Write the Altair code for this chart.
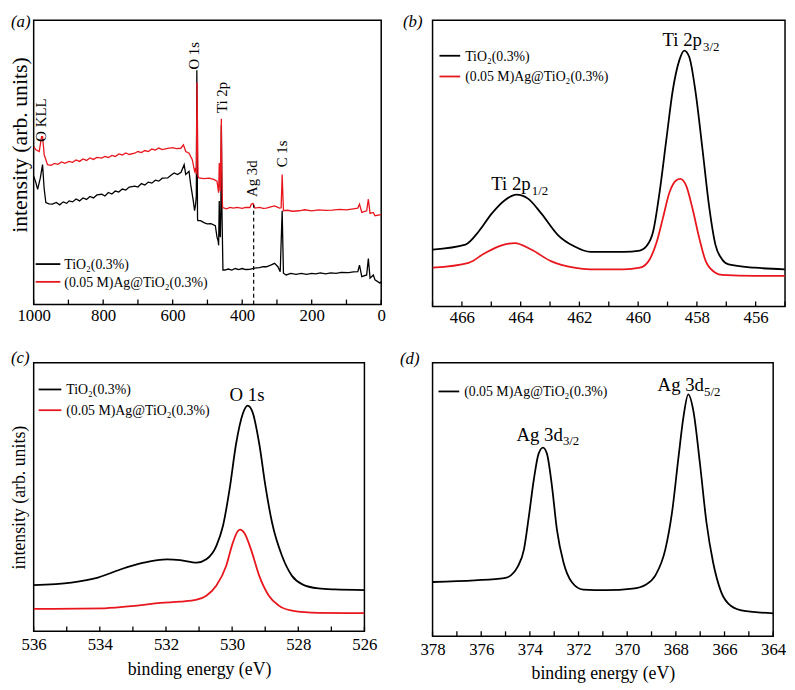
import altair as alt
import pandas as pd

FONT = "Liberation Serif"
RED = "#e8161d"
BLACK = "#000000"

LBL_TIO2 = "TiO\u2082(0.3%)"
LBL_AG = "(0.05 M)Ag@TiO\u2082(0.3%)"

# ---------------- (a) survey spectra ----------------
a_tio2_be = [1000, 994, 988.6, 981, 974.4, 970, 965, 956, 946, 935, 925, 915, 905, 898, 888, 878, 868, 858,
             848, 838, 828, 818, 804, 795, 785, 775, 765, 755, 745, 735, 725, 709, 700, 690, 680, 670, 660,
             650, 640, 630, 614.5, 605, 595.7, 586, 576, 567, 562.5, 553, 548.3, 540.7, 537, 534, 532, 530.5,
             528.5, 527.5, 520, 510, 501, 490, 477.3, 472.5, 469, 467.8, 466, 464.5, 463, 461.5, 460, 458,
             455.4, 450, 440, 430, 420, 410, 400, 390, 378, 365, 350, 340, 330.4, 318, 306.8, 297.3, 290.6,
             285, 281.3, 273.6, 260, 245, 230, 215, 200, 188.4, 175, 160, 145, 130, 115, 94, 80, 67.3, 62.5,
             55.9, 41.8, 37, 32.1, 22.7, 17.9, 3.7, 0]
a_tio2_int = [130, 124, 116.7, 128, 141.7, 118, 103.3, 102, 101.7, 103.5, 101, 104, 102.5, 105, 104, 107, 105,
              108, 106.5, 109.5, 108, 111, 111.7, 110, 113.5, 112, 115, 114, 117, 116, 119, 120, 119, 122.5,
              121, 124, 123, 126, 125, 128, 128.3, 131, 133.3, 131.7, 134, 141.7, 131.7, 135, 121.7, 105, 95,
              101.7, 110, 237.3, 87, 85, 85, 83, 81.7, 82, 80, 68.3, 64, 60, 105, 72, 68.3, 95, 181.7, 90, 35,
              35, 36, 35, 36.5, 35.5, 36.5, 35.5, 35.7, 37, 37.5, 38.5, 38.3, 40, 41.7, 38.3, 33.3, 95, 31.7,
              30, 31.5, 30.5, 31.5, 30.5, 31.5, 31, 32, 31, 32, 31.5, 32.5, 32.3, 33, 33.3, 40, 28.3, 30, 46.7,
              26.7, 30, 25, 21.7, 23.3]

a_ag_be = [1000, 993.4, 984, 977.3, 974.4, 969.7, 960.2, 950, 940, 930, 920, 910, 898.6, 888, 878, 868, 858,
           848, 838, 828, 818, 804, 795, 785, 775, 765, 755, 745, 735, 725, 709.4, 700, 690, 680, 670, 660,
           650, 640, 630, 614.5, 600, 590, 576.7, 569, 562.5, 553, 543.6, 537, 534, 532, 530, 527, 524.6,
           510, 495, 482, 472.5, 467.8, 466, 463, 460, 458, 456.5, 445, 435, 425, 415, 400, 390, 378, 373.6,
           368.4, 363.6, 350, 340, 330.4, 318, 306.8, 292.6, 288, 285, 281.3, 270, 255, 236.4, 220, 200,
           180, 160, 141.2, 120, 100, 80, 67.3, 62.5, 55.9, 41.8, 37, 32.1, 22.7, 17.9, 0]
a_ag_int = [160, 156.7, 155, 170, 170, 151.7, 141.7, 141, 143, 142, 144.5, 143, 145, 144, 146.5, 145, 147.5,
            146, 148.5, 147, 149, 148.3, 150, 149, 151, 150, 152.5, 151.5, 153.5, 152, 153.3, 155, 154, 156,
            155, 157.5, 156.5, 158.5, 157, 158.3, 159, 158, 158.3, 161.7, 155, 153.3, 146.7, 135, 138.3, 132,
            225, 130, 128.3, 127.5, 128, 126.7, 125, 113.3, 143.3, 115, 188.3, 120, 98.3, 97, 98.5, 97.7,
            98.5, 97.5, 98.5, 98.3, 101.7, 102.3, 97.7, 98.5, 97.5, 97.7, 99, 100, 97.7, 98, 131.7, 95, 95.5,
            94.5, 95, 96, 95, 96, 95.5, 95.7, 96.5, 96, 97, 97.7, 101.7, 93.3, 95, 106.7, 92.3, 93.3, 90, 91]

# ---------------- (b) Ti 2p ----------------
b_tio2_be = [467.0, 465.88, 465.43, 464.98, 464.54, 464.14, 463.75, 463.30, 462.74, 462.18, 461.62, 460.50,
             459.94, 459.72, 459.49, 459.27, 459.04, 458.82, 458.60, 458.43, 458.26, 458.04, 457.81, 457.59,
             457.37, 457.14, 456.92, 456.02, 455.01]
b_tio2_int = [57.7, 62.7, 76, 94.3, 107.7, 113.3, 109.3, 94.3, 72.7, 61, 55.3, 55.3, 56.7, 61, 76, 116, 169.3,
              219.3, 249.3, 259.3, 252.7, 216, 159.3, 102.7, 62.7, 47.7, 42.7, 39.3, 37.7]
b_ag_be = [467.0, 465.77, 465.21, 464.65, 464.20, 463.64, 462.97, 462.18, 461.62, 460.50, 459.94, 459.61,
           459.38, 459.16, 458.93, 458.71, 458.57, 458.37, 458.15, 457.92, 457.70, 457.37, 457.14, 456.02,
           455.01]
b_ag_int = [39.3, 44.3, 54.3, 62, 64.3, 57.7, 46, 39.3, 37.7, 37.7, 39.3, 47.7, 64.3, 89.3, 116, 127.7, 129.3,
            122.7, 99.3, 69.3, 46, 34.3, 32, 31, 31]

# ---------------- (c) O 1s ----------------
c_tio2_be = [536.0, 534.86, 534.06, 533.36, 532.67, 531.97, 531.57, 531.07, 530.78, 530.48, 530.28, 530.08,
             529.88, 529.68, 529.53, 529.38, 529.18, 528.99, 528.79, 528.49, 528.19, 527.89, 527.39, 526.90,
             526.0]
c_tio2_int = [46.7, 49.3, 54.3, 62.7, 69.3, 72.7, 72, 69.3, 72.7, 86, 106, 142.7, 189.3, 219.3, 227.7, 221,
              189.3, 146, 109.3, 76, 56, 47.7, 43.3, 42.3, 41.7]
c_ag_be = [536.0, 533.86, 532.87, 532.17, 531.57, 531.07, 530.78, 530.48, 530.18, 529.98, 529.83, 529.76,
           529.63, 529.43, 529.18, 528.89, 528.59, 528.19, 527.39, 526.0]
c_ag_int = [22.7, 23.3, 26, 28.7, 30, 32, 36, 46, 66, 89.3, 101, 102.7, 99.3, 82.7, 56, 36, 26, 21, 18.7, 18.3]

# ---------------- (d) Ag 3d ----------------
d_ag_be = [378.0, 376.27, 375.05, 374.78, 374.51, 374.24, 374.04, 373.84, 373.64, 373.46, 373.30, 373.09,
           372.89, 372.62, 372.28, 371.81, 370.86, 369.78, 369.24, 368.84, 368.43, 368.16, 367.89, 367.69,
           367.49, 367.28, 367.01, 366.74, 366.47, 366.14, 365.73, 365.19, 364.0]
d_ag_int = [55, 56.7, 59, 61.7, 70, 88.3, 121.7, 158.3, 185, 191, 185, 151.7, 108.3, 75, 55, 47.3, 46.7, 48.3,
            52.3, 61.7, 88.3, 125, 181.7, 221.7, 245, 228.3, 175, 115, 75, 45, 30.7, 25.7, 23.3]

# axis ticks (major labelled, minor unlabelled)
a_major = [0, 200, 400, 600, 800, 1000]
a_minor = [100, 300, 500, 700, 900]
b_major = [456, 458, 460, 462, 464, 466]
b_minor = [455, 457, 459, 461, 463, 465, 467]
c_major = [526, 528, 530, 532, 534, 536]
c_minor = [527, 529, 531, 533, 535]
d_major = [364, 366, 368, 370, 372, 374, 376, 378]
d_minor = [365, 367, 369, 371, 373, 375, 377]

ONE = pd.DataFrame({"k": [0]})


def series(be, inten):
    return pd.DataFrame({"be": be, "intensity": inten})


def make_panel(lines, x_dom, y_max, w, h, major, minor, xtitle, ytitle, ytitle_size,
               ytitle_pad, interp, width_line, extras, legend, letter, letter_xy,
               label_pad=5, xtitle_pad=10, ytitle_y=None):
    xs = alt.Scale(domain=x_dom, reverse=True, nice=False, zero=False)
    ys = alt.Scale(domain=[0, y_max], nice=False, zero=False)
    xaxis = alt.Axis(values=major, format="d", ticks=False, domain=False, grid=False,
                     labelFont=FONT, labelFontSize=17, labelColor="black", labelPadding=label_pad,
                     labelFlush=False, title=xtitle, titleFont=FONT, titleFontSize=18,
                     titleFontWeight="normal", titleColor="black", titlePadding=xtitle_pad)
    if ytitle:
        yargs = dict(labels=False, ticks=False, domain=False, grid=False, title=ytitle,
                     titleFont=FONT, titleFontSize=ytitle_size, titleFontWeight="normal",
                     titleColor="black", titlePadding=ytitle_pad)
        if ytitle_y is not None:
            yargs["titleY"] = ytitle_y
        yaxis = alt.Axis(**yargs)
    else:
        yaxis = None
    X = lambda f: alt.X(f, scale=xs, axis=xaxis)
    Y = lambda f: alt.Y(f, scale=ys, axis=yaxis)

    layers = []
    for df, col in lines:
        layers.append(alt.Chart(df).mark_line(color=col, strokeWidth=width_line,
                                              interpolate=interp, clip=True)
                      .encode(x=X("be:Q"), y=Y("intensity:Q")))
    tick_df = pd.DataFrame({"t": major + minor})
    layers.append(alt.Chart(tick_df).mark_rule(color="black", strokeWidth=1.3)
                  .encode(x=X("t:Q"), y=alt.value(h), y2=alt.value(h - 5)))
    for e in extras:
        kind = e["kind"]
        if kind == "text":
            props = dict(font=FONT, color="black", fontSize=e.get("size", 19),
                         align=e.get("align", "left"), baseline=e.get("baseline", "alphabetic"))
            if "angle" in e:
                props["angle"] = e["angle"]
            layers.append(alt.Chart(ONE).mark_text(**props).encode(
                x=alt.X(datum=e["x"], scale=xs, axis=xaxis), y=alt.Y(datum=e["y"], scale=ys, axis=yaxis),
                text=alt.value(e["text"])))
            if e.get("sub"):
                layers.append(alt.Chart(ONE).mark_text(font=FONT, color="black", fontSize=13,
                                                       align="left", baseline="alphabetic",
                                                       dx=e["subdx"], dy=5).encode(
                    x=alt.X(datum=e["x"], scale=xs, axis=xaxis),
                    y=alt.Y(datum=e["y"], scale=ys, axis=yaxis),
                    text=alt.value(e["sub"])))
        elif kind == "dash":
            layers.append(alt.Chart(ONE).mark_rule(color="black", strokeWidth=1.2, strokeDash=[4, 3])
                          .encode(x=alt.X(datum=e["x"], scale=xs, axis=xaxis),
                                  y=alt.Y(datum=e["y0"], scale=ys, axis=yaxis),
                                  y2=alt.Y2(datum=e["y1"])))
    # legend (drawn in pixel space of the panel)
    lx0, lx1, ltx, rows = legend
    for ly, col, txt in rows:
        layers.append(alt.Chart(ONE).mark_rule(color=col, strokeWidth=1.8).encode(
            x=alt.value(lx0), x2=alt.value(lx1), y=alt.value(ly)))
        layers.append(alt.Chart(ONE).mark_text(font=FONT, fontSize=14, color="black", align="left",
                                               baseline="middle", dy=1).encode(
            x=alt.value(ltx), y=alt.value(ly), text=alt.value(txt)))
    layers.append(alt.Chart(ONE).mark_text(font=FONT, fontSize=17, fontStyle="italic", color="black",
                                           align="left", baseline="top").encode(
        x=alt.value(letter_xy[0]), y=alt.value(letter_xy[1]), text=alt.value(letter)))
    return alt.layer(*layers).properties(width=w, height=h)


pa = make_panel(
    [(series(a_tio2_be, a_tio2_int), BLACK), (series(a_ag_be, a_ag_int), RED)],
    [0, 1000], 288, 352, 288, a_major, a_minor, None, "intensity (arb. units)", 22, 2,
    "linear", 1.3,
    [
        {"kind": "dash", "x": 367, "y0": 0, "y1": 101},
        {"kind": "text", "x": 979, "y": 165, "text": "O KLL", "size": 15, "angle": 270, "baseline": "middle"},
        {"kind": "text", "x": 538.9, "y": 238, "text": "O 1s", "size": 15, "angle": 270, "baseline": "middle"},
        {"kind": "text", "x": 458.3, "y": 194, "text": "Ti 2p", "size": 15, "angle": 270, "baseline": "middle"},
        {"kind": "text", "x": 373, "y": 109, "text": "Ag 3d", "size": 15, "angle": 270, "baseline": "middle"},
        {"kind": "text", "x": 285, "y": 139, "text": "C 1s", "size": 15, "angle": 270, "baseline": "middle"},
    ],
    (2, 27, 31, [(247, BLACK, LBL_TIO2), (265, RED, LBL_AG)]),
    "(a)", (-23, -6), label_pad=3, ytitle_y=126)

pb = make_panel(
    [(series(b_tio2_be, b_tio2_int), BLACK), (series(b_ag_be, b_ag_int), RED)],
    [455, 467], 290, 357, 290, b_major, b_minor, None, None, 18, 4, "monotone", 1.8,
    [
        {"kind": "text", "x": 465.0, "y": 118, "text": "Ti 2p", "sub": "1/2", "subdx": 41},
        {"kind": "text", "x": 459.17, "y": 264, "text": "Ti 2p", "sub": "3/2", "subdx": 41},
    ],
    (7, 28, 33, [(36, BLACK, LBL_TIO2), (57, RED, LBL_AG)]),
    "(b)", (-30, -6), label_pad=3)

pc = make_panel(
    [(series(c_tio2_be, c_tio2_int), BLACK), (series(c_ag_be, c_ag_int), RED)],
    [526, 536], 271, 335, 272, c_major, c_minor, "binding energy (eV)", "intensity (arb. units)", 18, 5,
    "monotone", 1.8,
    [
        {"kind": "text", "x": 529.55, "y": 232.7, "text": "O 1s", "align": "center"},
    ],
    (5, 28, 33, [(27, BLACK, LBL_TIO2), (48, RED, LBL_AG)]),
    "(c)", (-23, -13), label_pad=5, xtitle_pad=9)

pd_ = make_panel(
    [(series(d_ag_be, d_ag_int), BLACK)],
    [364, 378], 277, 345, 277, d_major, d_minor, "binding energy (eV)", None, 18, 4, "monotone", 1.8,
    [
        {"kind": "text", "x": 374.55, "y": 198.3, "text": "Ag 3d", "sub": "3/2", "subdx": 47},
        {"kind": "text", "x": 368.75, "y": 248.3, "text": "Ag 3d", "sub": "5/2", "subdx": 47},
    ],
    (6, 27, 32, [(29, BLACK, LBL_AG)]),
    "(d)", (-33, -12), label_pad=5, xtitle_pad=8)

chart = (
    alt.concat(pa, pb, pc, pd_, columns=2, spacing={"row": 57, "column": 52}, bounds="flush", align="each")
    .properties(padding=0)
    .configure_view(stroke="black", strokeWidth=1.5)
    .configure_axis(labelFont=FONT, titleFont=FONT, labelColor="black", titleColor="black",
                    titleFontWeight="normal")
    .configure_text(font=FONT)
)

chart.save("out.html", embed_options={"renderer": "svg", "actions": False})
